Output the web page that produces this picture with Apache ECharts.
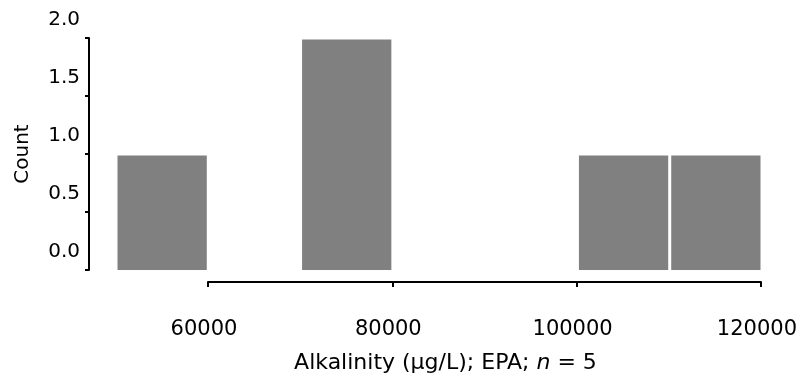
<!DOCTYPE html>
<html>
<head>
<meta charset="utf-8">
<script src="https://cdn.jsdelivr.net/npm/echarts@6/dist/echarts.min.js"></script>
<style>html,body{margin:0;padding:0;background:#fff}#c{width:800px;height:381px}</style>
</head>
<body>
<div id="c"></div>
<script>
// Histogram bins (µg/L) and counts
const binStarts = [50000, 70000, 100000, 110000];
const binEnds   = [60000, 80000, 110000, 120000];
const counts    = [1, 2, 1, 1];
const xTicks = [60000, 80000, 100000, 120000];
const yTicks = [0.0, 0.5, 1.0, 1.5, 2.0];
const xTitleParts = ['Alkalinity (µg/L); EPA; ', 'n', ' = 5'];
const yTitle = 'Count';

const FONT = 'DejaVu Sans';
const data = binStarts.map((s, i) => [s, binEnds[i], counts[i]]);

const chart = echarts.init(document.getElementById('c'), null, {renderer: 'canvas'});
chart.setOption({
  animation: false,
  backgroundColor: '#fff',
  grid: [
    {left: 116, right: 38, top: 38, bottom: 111},
    {left: 208, right: 38, top: 38, bottom: 99}
  ],
  xAxis: [
    {gridIndex: 0, type: 'value', min: 50000, max: 120000, show: false},
    {gridIndex: 1, type: 'value', min: xTicks[0], max: xTicks[xTicks.length - 1], interval: 20000,
     axisLine: {show: true, lineStyle: {color: '#000', width: 2}},
     axisTick: {show: true, length: 5, lineStyle: {color: '#000', width: 2}},
     splitLine: {show: false},
     axisLabel: {color: '#000', fontFamily: FONT, fontSize: 21, margin: 37, padding: [0, 8, 0, 0],
                 formatter: v => String(v)},
     name: xTitleParts[0] + '{i|' + xTitleParts[1] + '}' + xTitleParts[2],
     nameLocation: 'middle', nameGap: 70,
     nameTextStyle: {color: '#000', fontFamily: FONT, fontSize: 22, padding: [0, 78, 0, 0],
                     rich: {i: {fontStyle: 'italic', fontFamily: FONT, fontSize: 22, color: '#000'}}}
    }
  ],
  yAxis: [
    {gridIndex: 0, type: 'value', min: yTicks[0], max: yTicks[yTicks.length - 1], interval: 0.5,
     offset: 27,
     axisLine: {show: true, lineStyle: {color: '#000', width: 2}},
     axisTick: {show: true, length: 4, lineStyle: {color: '#000', width: 2}},
     splitLine: {show: false},
     axisLabel: {color: '#000', fontFamily: FONT, fontSize: 20, margin: 9,
                 verticalAlign: 'bottom', lineHeight: 36,
                 formatter: v => v.toFixed(1)},
     name: yTitle, nameLocation: 'middle', nameGap: 56, nameRotate: 90,
     nameTextStyle: {color: '#000', fontFamily: FONT, fontSize: 20}
    },
    {gridIndex: 1, type: 'value', show: false}
  ],
  series: [{
    type: 'custom',
    xAxisIndex: 0, yAxisIndex: 0,
    data: data,
    encode: {x: [0, 1], y: 2},
    renderItem: function (params, api) {
      const p0 = api.coord([api.value(0), api.value(2)]);
      const p1 = api.coord([api.value(1), 0]);
      const inset = 1.5;
      return {
        type: 'rect',
        shape: {x: p0[0] + inset, y: p0[1] + inset, width: p1[0] - p0[0] - 2 * inset, height: p1[1] - p0[1] - inset},
        style: {fill: '#808080'}
      };
    }
  }]
});
</script>
</body>
</html>
